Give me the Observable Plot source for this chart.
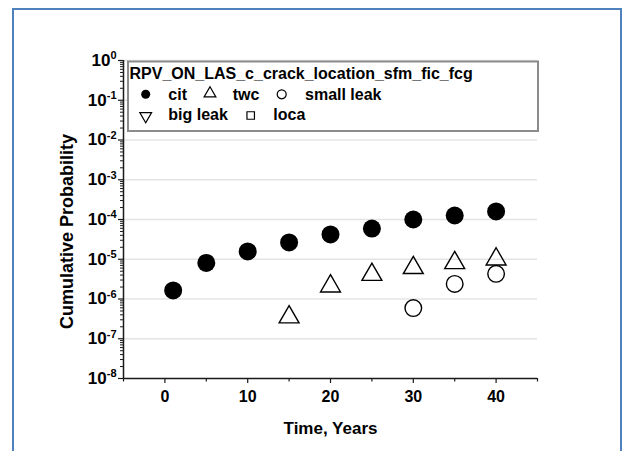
<!DOCTYPE html>
<html>
<head>
<meta charset="utf-8">
<script src="https://cdn.jsdelivr.net/npm/d3@7"></script>
<script src="https://cdn.jsdelivr.net/npm/@observablehq/plot@0.6"></script>
<style>
  body { margin: 0; background: #fff; }
  #wrap { position: relative; width: 626px; height: 451px; overflow: hidden; font-family: "Liberation Sans", Arial, sans-serif; }
  #frame { position: absolute; left: 12px; top: 8px; width: 606px; height: 470px; border: 2px solid #4f81bd; }
  #chart { position: absolute; left: 0; top: 0; }
  #legend { position: absolute; left: 127px; top: 60px; overflow: visible; }
</style>
</head>
<body>
<div id="wrap">
  <div id="frame"></div>
  <div id="chart"></div>
  <svg id="legend" width="412" height="72"></svg>
</div>
<script>
// ---- data ----
const citYears = [1, 5, 10, 15, 20, 25, 30, 35, 40];
const citValues = [1.64e-6, 8.1e-6, 1.57e-5, 2.65e-5, 4.2e-5, 5.9e-5, 1.0e-4, 1.26e-4, 1.6e-4];
const twcYears = [15, 20, 25, 30, 35, 40];
const twcValues = [3.5e-7, 2.1e-6, 4.1e-6, 6.1e-6, 8.1e-6, 1.0e-5];
const smallLeakYears = [30, 35, 40];
const smallLeakValues = [5.9e-7, 2.4e-6, 4.3e-6];

const legendTitle = "RPV_ON_LAS_c_crack_location_sfm_fic_fcg";
const seriesNames = ["cit", "twc", "small leak", "big leak", "loca"];
const xTitle = "Time, Years";
const yTitle = "Cumulative Probability";

const xMajorTicks = [0, 10, 20, 30, 40];
const xMinorTicks = [-5, 5, 15, 25, 35, 45];
const yExponents = [-8, -7, -6, -5, -4, -3, -2, -1, 0];
const yMajorTicks = yExponents.map(e => Math.pow(10, e));
const yMinorTicks = [];
for (const e of yExponents.slice(0, -1)) for (let m = 2; m <= 9; m++) yMinorTicks.push(m * Math.pow(10, e));

const cit = citYears.map((x, i) => ({x, y: citValues[i]}));
const twc = twcYears.map((x, i) => ({x, y: twcValues[i]}));
const smallLeak = smallLeakYears.map((x, i) => ({x, y: smallLeakValues[i]}));

const ink = "#1a1a1a";
const FONT = '"Liberation Sans", Arial, sans-serif';

const plot = Plot.plot({
  width: 626,
  height: 451,
  marginLeft: 123,
  marginRight: 89,
  marginTop: 60,
  marginBottom: 73,
  style: {fontFamily: FONT, background: "transparent", overflow: "visible"},
  x: {domain: [-5, 45]},
  y: {type: "log", domain: [1e-8, 1]},
  marks: [
    Plot.ruleY(yMajorTicks.filter(d => d > 1e-8), {stroke: "#e4e4e4", strokeWidth: 1.5}),
    Plot.axisY(yMajorTicks, {
      tickSize: 5, tickPadding: 2, stroke: ink, strokeWidth: 1.2,
      tickFormat: d => "10^" + Math.round(Math.log10(d)),
      fontSize: 17, fontWeight: "bold", fill: "#000",
      label: yTitle, labelAnchor: "center", labelOffset: 63, labelArrow: "none"
    }),
    Plot.axisY(yMinorTicks, {tickSize: 3, stroke: ink, strokeWidth: 1, tickFormat: () => "", label: null}),
    Plot.axisX(xMajorTicks, {
      tickSize: 5, tickPadding: 7, stroke: ink, strokeWidth: 1.2,
      fontSize: 16, fontWeight: "bold", fill: "#000",
      label: xTitle, labelAnchor: "center", labelOffset: 55, labelArrow: "none"
    }),
    Plot.axisX(xMinorTicks, {tickSize: 3.5, stroke: ink, strokeWidth: 1.2, tickFormat: () => "", label: null}),
    Plot.ruleX([-5], {y1: 1e-8, y2: 1, stroke: ink, strokeWidth: 1.5}),
    Plot.ruleY([1e-8], {x1: -5, x2: 45, stroke: ink, strokeWidth: 1.5}),
    Plot.dot(cit, {x: "x", y: "y", r: 9, symbol: "circle", fill: "#000", stroke: "none"}),
    Plot.dot(twc, {x: "x", y: "y", r: 7.4, symbol: "triangle", fill: "none", stroke: "#000", strokeWidth: 1.4}),
    Plot.dot(smallLeak, {x: "x", y: "y", r: 8.3, symbol: "circle", fill: "none", stroke: "#000", strokeWidth: 1.4})
  ]
});
document.getElementById("chart").appendChild(plot);

// font sizes, bold, and superscript exponents on the log axis labels
const root = d3.select(plot);
const xTickSet = new Set(xMajorTicks.map(String));
root.selectAll("text").each(function () {
  const sel = d3.select(this);
  const t = this.textContent;
  sel.style("font-family", FONT, "important").style("font-weight", "bold", "important").style("fill", "#000");
  if (t.startsWith("10^")) {
    const [b, e] = t.split("^");
    sel.style("font-size", "17px", "important");
    sel.text(null);
    sel.append("tspan").text(b);
    sel.append("tspan").style("font-size", "11px", "important").attr("dy", "-0.6em").text(e);
  } else if (xTickSet.has(t)) {
    sel.style("font-size", "16px", "important");
  } else if (t === xTitle) {
    sel.style("font-size", "17px", "important");
  } else if (t === yTitle) {
    sel.style("font-size", "18px", "important");
    // the reference's title sits a little below the plot centre
    const tr = sel.attr("transform") || "";
    sel.attr("transform", "translate(0,12) " + tr);
  }
});

// ---- legend ----
const lg = d3.select("#legend");
lg.append("rect").attr("x", 1).attr("y", 1.5).attr("width", 410).attr("height", 69.5)
  .attr("fill", "#fff").attr("stroke", "#8c8c8c").attr("stroke-width", 2);
const tstyle = s => s.attr("font-family", FONT).attr("font-weight", "bold").attr("font-size", 16).attr("fill", "#000");
lg.append("text").attr("x", 2.5).attr("y", 19).text(legendTitle).call(tstyle);

const symbolTypes = [d3.symbolCircle, d3.symbolTriangle, d3.symbolCircle, d3.symbolTriangle, d3.symbolSquare];
const filled = [true, false, false, false, false];
const rotate = [0, 0, 0, 180, 0];
const sizes = [64, 60, 64, 60, 56];
const slot = [
  {sx: 18.7, sy: 34.3, tx: 41.3, ty: 40},
  {sx: 83, sy: 33.5, tx: 105.7, ty: 40},
  {sx: 154.7, sy: 34.3, tx: 178, ty: 40},
  {sx: 18.7, sy: 56, tx: 41.3, ty: 60},
  {sx: 123.7, sy: 55.5, tx: 146.3, ty: 60}
];
seriesNames.forEach((name, i) => {
  const p = slot[i];
  lg.append("path")
    .attr("d", d3.symbol(symbolTypes[i], sizes[i])())
    .attr("transform", `translate(${p.sx},${p.sy}) rotate(${rotate[i]})`)
    .attr("fill", filled[i] ? "#000" : "none")
    .attr("stroke", filled[i] ? "none" : "#000")
    .attr("stroke-width", 1.2);
  lg.append("text").attr("x", p.tx).attr("y", p.ty).text(name).call(tstyle);
});
</script>
</body>
</html>
